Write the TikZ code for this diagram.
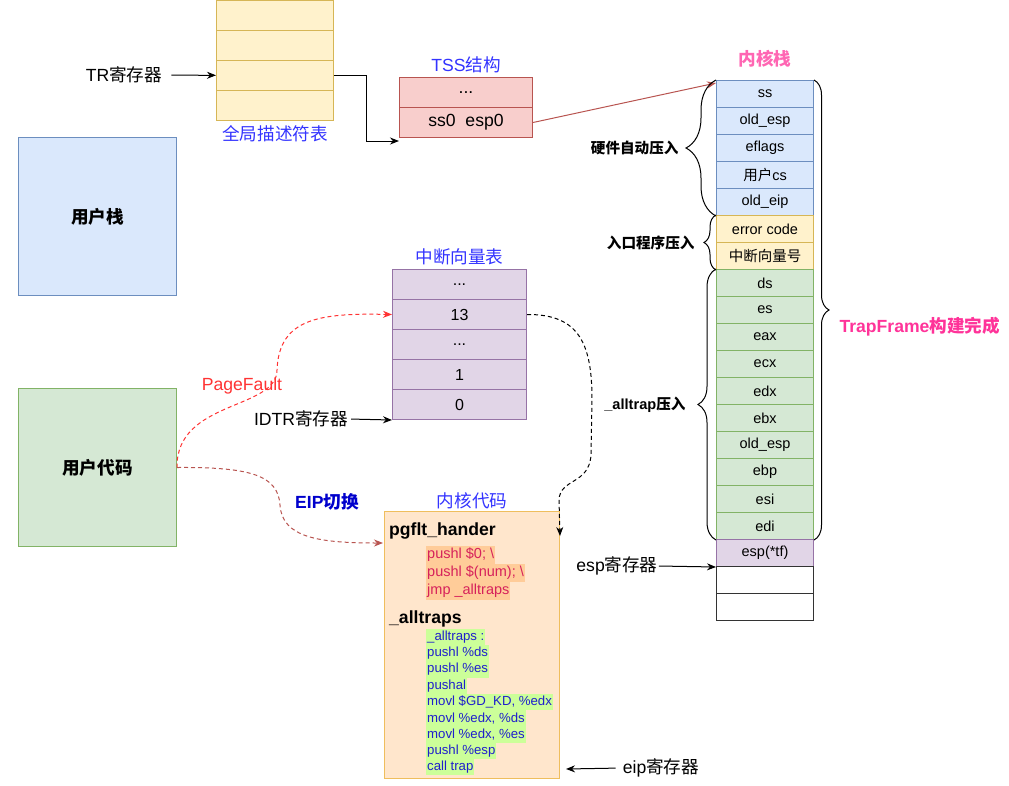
\documentclass[tikz,border=0pt]{standalone}
\usepackage{fontspec}
\setmainfont{Liberation Sans}
\newfontfamily\cjk{Noto Sans CJK SC}
\usetikzlibrary{positioning,calc,arrows.meta,decorations.pathreplacing}

\definecolor{bluefill}{HTML}{DAE8FC}\definecolor{blueline}{HTML}{6C8EBF}
\definecolor{yelfill}{HTML}{FFF2CC}\definecolor{yelline}{HTML}{D6B656}
\definecolor{grnfill}{HTML}{D5E8D4}\definecolor{grnline}{HTML}{82B366}
\definecolor{purfill}{HTML}{E1D5E7}\definecolor{purline}{HTML}{9673A6}
\definecolor{redfill}{HTML}{F8CECC}\definecolor{redline}{HTML}{B85450}
\definecolor{orgfill}{HTML}{FFE6CC}\definecolor{orgline}{HTML}{EFBE5D}
\definecolor{titleblue}{HTML}{3333FF}
\definecolor{stackpink}{HTML}{FF66B3}
\definecolor{framepink}{HTML}{FF3399}
\definecolor{eipblue}{HTML}{0000CC}
\definecolor{pfred}{HTML}{FF3333}
\definecolor{asmred}{HTML}{D6215B}\definecolor{asmredbg}{HTML}{FFCC99}
\definecolor{asmblue}{HTML}{1F1FCC}\definecolor{asmbluebg}{HTML}{CCFF99}

\newcommand\lblfont{\fontsize{17.6}{21}\selectfont}
\newcommand\cellfont{\fontsize{14.5}{17}\selectfont}
\newcommand\vecfont{\fontsize{16}{19}\selectfont}
\newcommand\asmfont{\fontsize{13.2}{16}\selectfont}
\newcommand\bracefont{\fontsize{14.6}{17}\selectfont}
\newcommand\tdots{...}

\begin{document}
\begin{tikzpicture}[x=1pt, y=-1pt,
    cell/.style={draw, line width=1pt, inner sep=0pt, anchor=north west},
    gdtcell/.style={cell, fill=yelfill, draw=yelline, minimum width=117pt, minimum height=30pt},
    tsscell/.style={cell, fill=redfill, draw=redline, minimum width=133pt, minimum height=30pt, font=\lblfont},
    vcell/.style={cell, fill=purfill, draw=purline, minimum width=134pt, minimum height=30pt, font=\vecfont},
    stkcell/.style={cell, minimum width=97pt, minimum height=27pt, font=\cellfont},
    ubox/.style={cell, minimum width=158pt, minimum height=158pt, font=\lblfont\bfseries\cjk},
    ttl/.style={font=\lblfont, text=titleblue, inner sep=1pt},
    reg/.style={font=\lblfont, inner sep=1pt},
    brc/.style={decorate, decoration={brace, amplitude=#1}, line width=1pt},
    bracelbl/.style={font=\bracefont\bfseries, inner sep=1pt},
    arr/.style={-{Stealth[length=9pt, width=7pt]}, line width=1pt},
    dashln/.style={dash pattern=on 4pt off 3pt},
    asmhead/.style={anchor=west, font=\lblfont\bfseries, inner sep=0pt},
    asmr/.style={anchor=west, font=\cellfont, text=asmred, fill=asmredbg, inner xsep=1pt, inner ysep=0pt, minimum height=18pt},
    asmb/.style={anchor=west, font=\asmfont, text=asmblue, fill=asmbluebg, inner xsep=1pt, inner ysep=0pt, minimum height=16.3pt}]
    \useasboundingbox (0,0) rectangle (1009,785);

    % Global descriptor table and TR
    \foreach \i in {0,...,3}
        \node[gdtcell] (g\i) at (216,{30*\i}) {};
    \node[ttl, below=3pt of g3] (gdtname) {\cjk 全局描述符表};
    \node[reg] (trreg) at (124,75) {TR{\cjk 寄存器}};
    \draw[arr, shorten <=8pt] (trreg) -- (g2);

    % TSS
    \node[tsscell] (t0) at (399,77) {\tdots};
    \node[tsscell] (t1) at (399,107) {ss0\ \ esp0};
    \node[ttl, above=3pt of t0] (tssname) {TSS{\cjk 结构}};
    \coordinate (tssin) at ($(t1.south west)+(0,3)$);
    \draw[arr] (g2.east) -- ++(32,0) |- (tssin);

    % Kernel stack
    \foreach \t/\f/\d [count=\i from 0] in {ss/bluefill/blueline, old\_esp/bluefill/blueline,
        eflags/bluefill/blueline, {\cjk 用户}cs/bluefill/blueline, old\_eip/bluefill/blueline,
        error code/yelfill/yelline, {\cjk 中断向量号}/yelfill/yelline,
        ds/grnfill/grnline, es/grnfill/grnline, eax/grnfill/grnline, ecx/grnfill/grnline,
        edx/grnfill/grnline, ebx/grnfill/grnline, old\_esp/grnfill/grnline, ebp/grnfill/grnline,
        esi/grnfill/grnline, edi/grnfill/grnline, esp(*tf)/purfill/purline,
        /white/black!80, /white/black!80}
        \node[stkcell, fill=\f, draw=\d] (k\i) at (716,{80+27*\i}) {\t};
    \node[font=\lblfont\bfseries\cjk, text=stackpink, above=9pt of k0] (kstackname) {内核栈};
    \draw[arr, draw=redline] (t1.east) -- ($(k0.north west)+(0,3)$);

    % Braces
    \draw[brc=30pt] (k4.south west) -- (k0.north west)
        node[midway, left=36pt, bracelbl] (hwlbl) {\cjk 硬件自动压入};
    \draw[brc=12pt] (k6.south west) -- (k5.north west)
        node[midway, left=20pt, bracelbl] (entrylbl) {\cjk 入口程序压入};
    \draw[brc=18pt] (k16.south west) -- (k7.north west)
        node[midway, left=29pt, bracelbl] (atlbl) {\_alltrap{\cjk 压入}};
    \draw[brc=15pt] (k0.north east) -- (k16.south east);
    \node[font=\lblfont\bfseries, text=framepink, anchor=west] (tfname) at (836,327) {TrapFrame{\cjk 构建完成}};

    \node[reg] (espreg) at (617,566) {esp{\cjk 寄存器}};
    \draw[arr] (espreg.east) -- (k17.south west);

    % Interrupt vector table
    \foreach \t [count=\i from 0] in {\tdots,13,\tdots,1,0}
        \node[vcell] (v\i) at (392,{269+30*\i}) {\t};
    \node[ttl, above=3pt of v0] (vecname) {\cjk 中断向量表};
    \node[reg] (idtr) at (301,419) {IDTR{\cjk 寄存器}};
    \draw[arr, shorten <=2pt] (idtr.east) -- (v4.south west);

    % User side
    \node[ubox, fill=bluefill, draw=blueline] (ustack) at (18,137) {用户栈};
    \node[ubox, fill=grnfill, draw=grnline] (ucode) at (18,388) {用户代码};

    % Kernel code
    \node[cell, fill=orgfill, draw=orgline, minimum width=175pt, minimum height=267pt] (kcode) at (384,511) {};
    \node[ttl, above=1pt of kcode] (kcodename) {\cjk 内核代码};
    \node[asmhead] (pghead) at (389,531) {pgflt\_hander};
    \foreach \t [count=\i from 0] in {{pushl \$0; \textbackslash}, {pushl \$(num); \textbackslash}, {jmp \_alltraps}}
        \node[asmr] (r\i) at (426,{555+18*\i}) {\t};
    \node[asmhead] (athead) at (389,619) {\_alltraps};
    \foreach \t [count=\i from 0] in {{\_alltraps :}, {pushl \%ds}, {pushl \%es}, {pushal},
        {movl \$GD\_KD, \%edx}, {movl \%edx, \%ds}, {movl \%edx, \%es}, {pushl \%esp}, {call trap}}
        \node[asmb] (b\i) at (426,{637+16.25*\i}) {\t};

    % Curved connectors
    \draw[arr, dashln, draw=pfred] (ucode.east) .. controls (176,400) and (277,410) .. (277,370)
        .. controls (279,318) and (320,313) .. (v1.west);
    \node[font=\lblfont, text=pfred] (pflbl) at (242,386) {PageFault};
    \draw[arr, dashln, draw=redline] (ucode.east) .. controls (250,467) and (278,475) .. (280,505)
        .. controls (282,538) and (320,543) .. ($(kcode.north west)+(-1,32)$);
    \node[font=\lblfont\bfseries, text=eipblue] (eiplbl) at (327,502) {EIP{\cjk 切换}};
    \draw[arr, dashln] (v1.east) .. controls (580,314) and (592,345) .. (592,400) -- (591,455)
        .. controls (589,485) and (560,478) .. (559,500) -- ($(kcode.north east)+(0,25)$);

    \node[reg] (eipreg) at (661,768) {eip{\cjk 寄存器}};
    \draw[arr, shorten <=6pt] (eipreg.west) -- ($(kcode.south east)+(6,-10)$);
\end{tikzpicture}
\end{document}
